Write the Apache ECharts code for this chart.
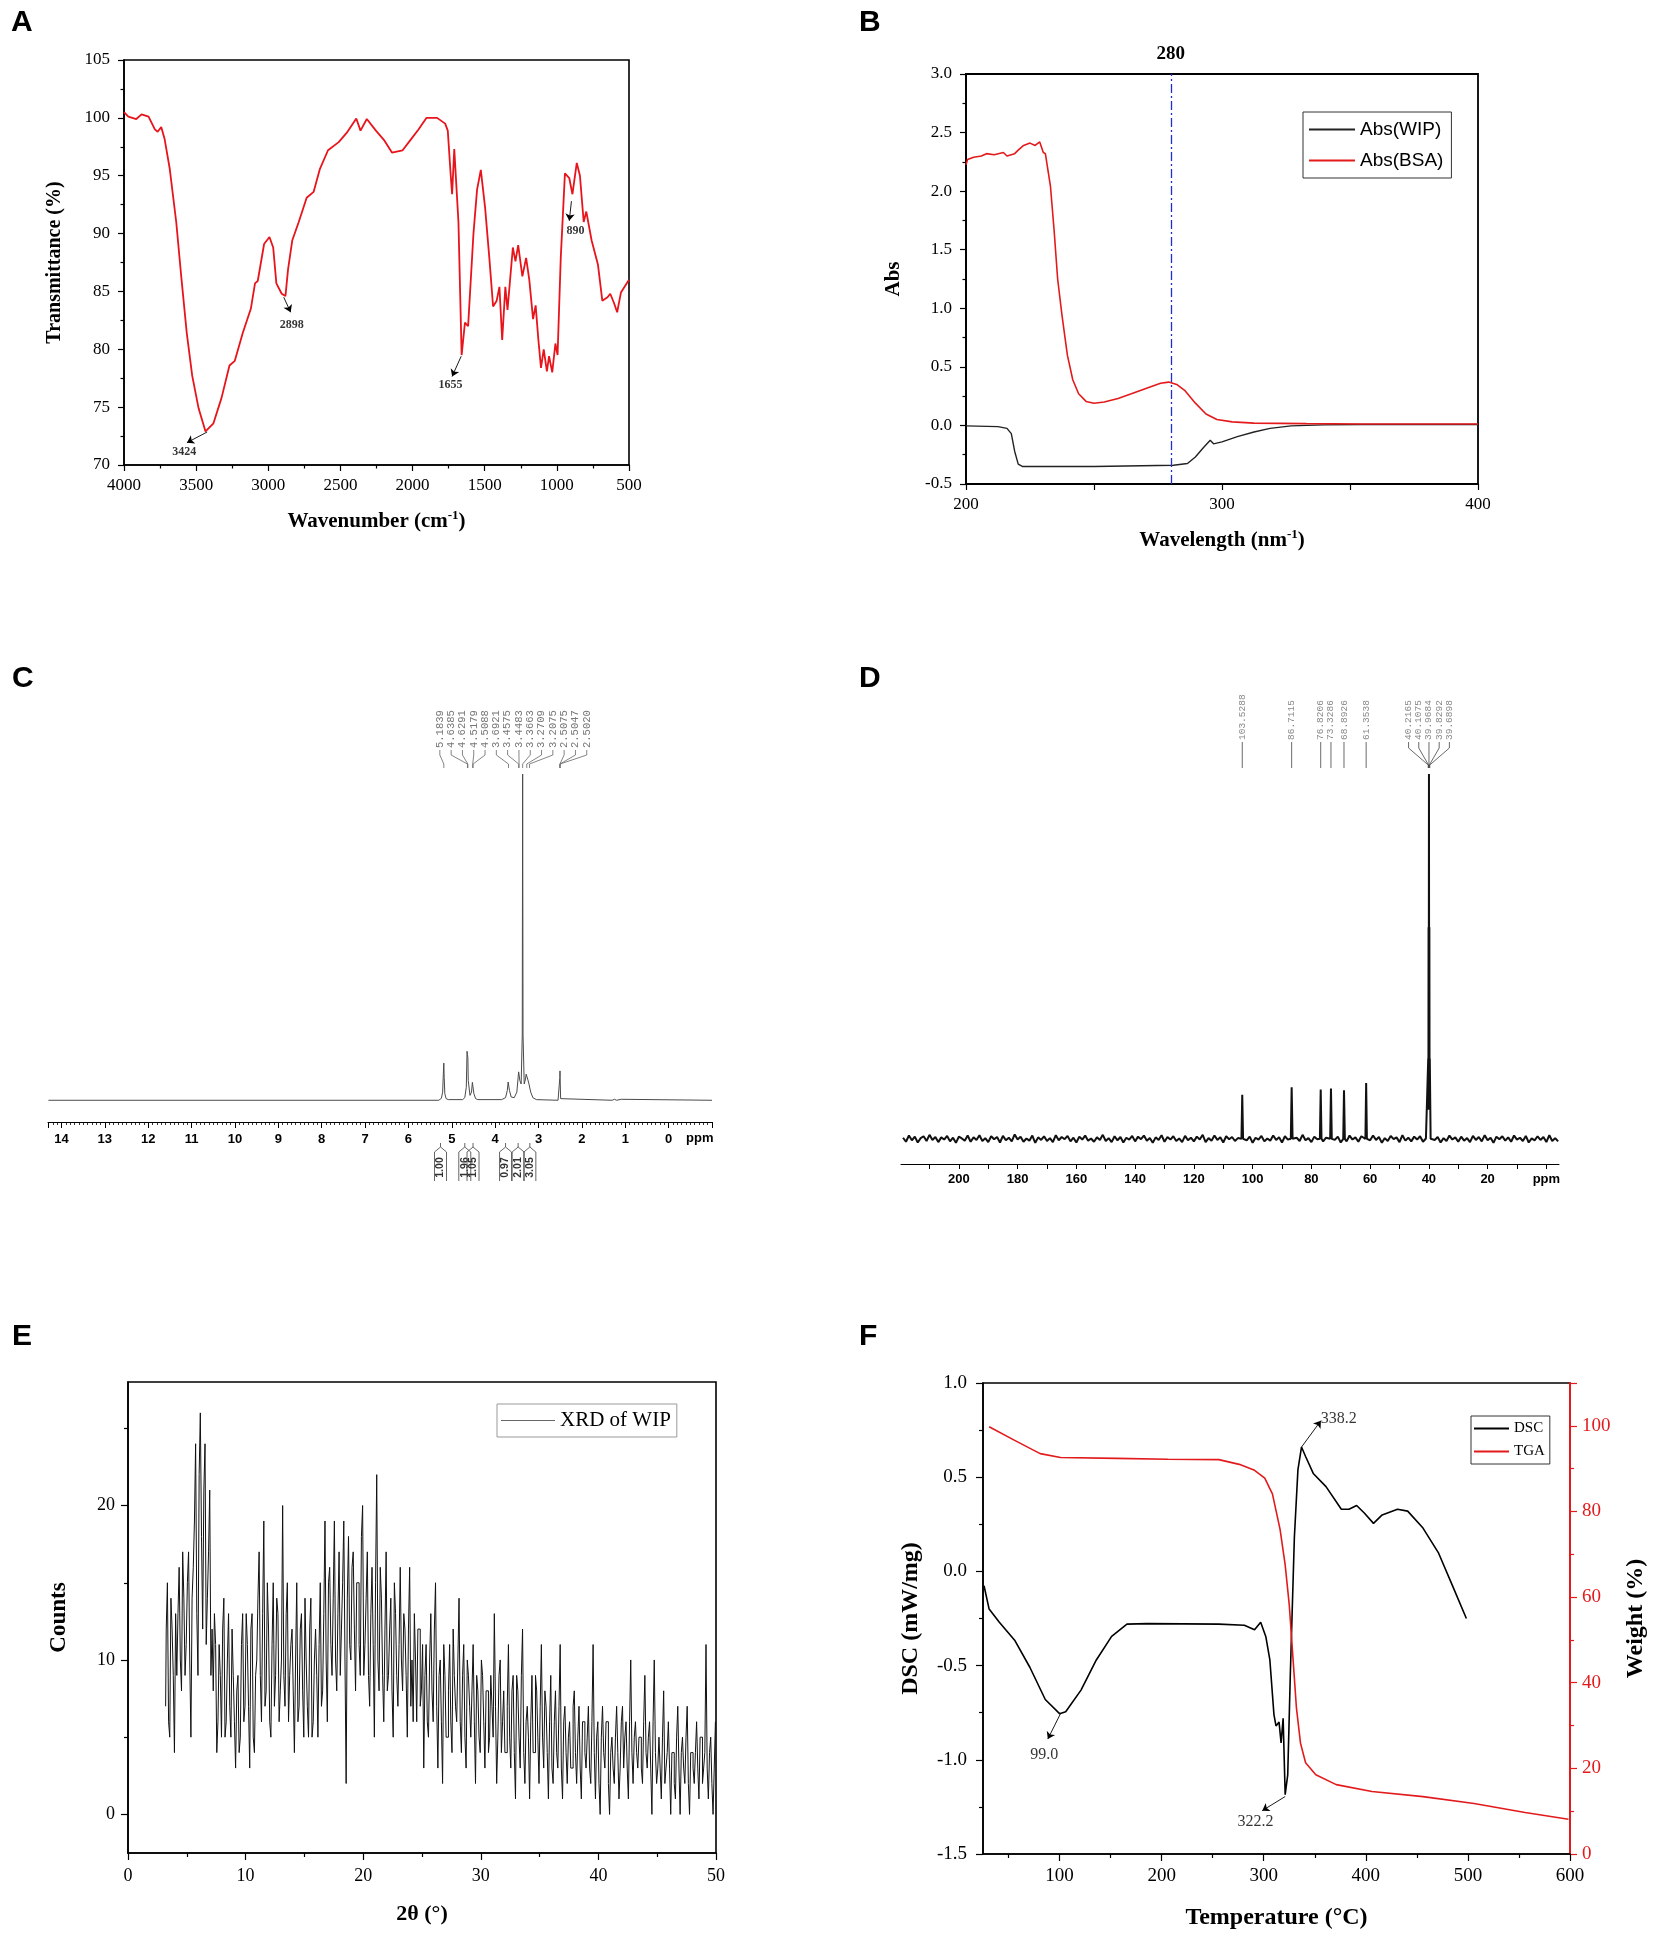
<!DOCTYPE html>
<html>
<head>
<meta charset="utf-8">
<title>WIP characterization</title>
<script src="https://cdn.jsdelivr.net/npm/echarts@6.0.0/dist/echarts.min.js"></script>
<style>
html, body { margin: 0; padding: 0; background: #fff; }
#main { width: 1654px; height: 1937px; }
</style>
</head>
<body>
<div id="main"></div>
<script>
// ---------- A: FT-IR ----------
var irSpectrum = [[4000,100.5],[3970,100.1],[3915,99.9],[3878,100.3],[3830,100.1],[3786,99.0],[3767,98.8],[3742,99.2],[3719,98.2],[3683,95.6],[3638,91.0],[3601,86.0],[3565,81.4],[3527,77.7],[3483,74.9],[3435,72.9],[3424,72.8],[3380,73.6],[3324,75.8],[3269,78.6],[3232,79.0],[3177,81.4],[3121,83.5],[3092,85.7],[3073,85.9],[3029,89.1],[2992,89.7],[2966,88.8],[2944,85.7],[2907,84.8],[2881,84.6],[2863,86.9],[2834,89.4],[2789,91.0],[2734,93.1],[2686,93.6],[2642,95.6],[2586,97.2],[2512,97.9],[2457,98.7],[2390,99.95],[2361,98.9],[2317,99.9],[2254,98.9],[2199,98.1],[2143,97.0],[2069,97.2],[2014,98.1],[1959,99.0],[1903,100.0],[1830,100.0],[1774,99.5],[1756,98.9],[1737,95.3],[1726,93.4],[1711,97.3],[1700,97.2],[1682,91.0],[1660,79.5],[1637,82.3],[1615,82.0],[1578,90.0],[1553,93.8],[1527,95.5],[1497,92.2],[1468,87.9],[1442,83.7],[1417,84.2],[1398,85.4],[1379,80.8],[1357,85.4],[1342,83.4],[1305,88.8],[1287,87.6],[1268,89.0],[1239,86.3],[1213,87.9],[1191,86.0],[1165,82.6],[1147,83.8],[1128,80.8],[1110,78.4],[1091,80.0],[1069,78.1],[1054,79.4],[1032,78.0],[1010,80.5],[995,79.5],[973,87.9],[944,95.2],[914,94.8],[892,93.4],[862,96.1],[840,95.0],[814,91.0],[796,91.9],[759,89.4],[715,87.3],[685,84.2],[649,84.5],[630,84.8],[604,84.0],[582,83.2],[556,84.9],[500,86.0]];
var irPeakText = ['3424', '2898', '1655', '890'];
var irArrowFrom = [[3424,72.85],[2893,84.5],[1663,79.4],[899,92.8]];
var irArrowTo = [[3564,71.93],[2845,83.2],[1726,77.65],[914,91.1]];
var irTextAt = [[3583,71.1],[2837,82.1],[1737,76.9],[870,90.2]];

// ---------- B: UV ----------
var uvWIP = [[200,-0.004],[212.5,-0.01],[216,-0.025],[217.7,-0.07],[219,-0.22],[220.4,-0.33],[222,-0.35],[250,-0.35],[281,-0.34],[286.5,-0.325],[289.6,-0.27],[292.7,-0.19],[295.4,-0.126],[296.7,-0.157],[300,-0.14],[306,-0.096],[312.5,-0.056],[318.75,-0.025],[327,-0.004],[339.6,0.005],[354,0.008],[400,0.008]];
var uvBSA = [[200,2.225],[200.6,2.27],[203,2.29],[206,2.30],[208,2.32],[211,2.31],[214.6,2.33],[216,2.30],[219,2.32],[220.4,2.35],[222.5,2.39],[225,2.41],[227,2.39],[228.8,2.42],[230.2,2.33],[231,2.32],[233,2.04],[234.4,1.67],[235.8,1.25],[237.5,0.94],[239.6,0.60],[241.7,0.39],[244,0.27],[246.9,0.205],[250,0.19],[254,0.20],[259.4,0.23],[264.6,0.27],[270.8,0.32],[276,0.36],[279.2,0.37],[282.3,0.35],[285.4,0.30],[289.6,0.19],[293.75,0.097],[298,0.05],[304,0.03],[312.5,0.02],[333,0.015],[354,0.012],[400,0.012]];
var uvMarker = 280;

// ---------- C: 1H NMR ----------
var nmrH = [[14.3,0],[5.30,0],[5.24,0.6],[5.21,2.5],[5.195,8],[5.184,11.4],[5.175,7],[5.16,2],[5.13,0.5],[5.08,0.2],
  [4.75,0.2],[4.70,0.8],[4.665,4],[4.648,15],[4.638,14],[4.629,13],[4.62,6],[4.58,1.5],[4.545,2.5],[4.525,5.5],[4.518,6.1],[4.509,5.8],[4.49,2],[4.45,0.5],[4.40,0.2],
  [3.85,0.2],[3.76,0.8],[3.72,3],[3.70,5.6],[3.69,5.6],[3.67,3],[3.63,1],[3.56,0.8],[3.50,2.5],[3.47,7],[3.458,8.7],[3.45,8.5],[3.43,6],[3.40,5],[3.375,20],[3.366,100],[3.357,20],[3.33,5],[3.30,6.5],[3.285,8.0],[3.271,8.3],[3.25,6.5],[3.22,5],[3.207,5.1],[3.18,2.5],[3.13,0.8],[3.05,0.2],
  [2.55,0],[2.52,0.5],[2.508,7],[2.505,9],[2.502,7],[2.49,0.5],[2.45,0],
  [1.30,0],[1.25,0.3],[1.2,0],[1.09,0.3],[1.05,0],[-1.0,0]];
var nmrHPeaks = [5.1839,4.6385,4.6291,4.5179,4.5088,3.6921,3.4575,3.4483,3.3663,3.2709,3.2075,2.5075,2.5047,2.5020];
var nmrHIntegralPpm = [5.26, 4.70, 4.51, 3.76, 3.47, 3.20];
var nmrHIntegralText = ['1.00', '1.96', '1.05', '0.97', '2.01', '3.05'];
var nmrHTicks = [0,1,2,3,4,5,6,7,8,9,10,11,12,13,14];

// ---------- D: 13C NMR ----------
var nmrCPeakShape = [[103.8,0],[103.53,12.1],[103.25,0],[87.0,0],[86.71,14.1],[86.4,0],[77.1,0],[76.82,13.5],[76.55,0],[73.6,0],[73.33,13.8],[73.05,0],[69.15,0],[68.89,13.3],[68.6,0],[61.6,0],[61.35,15.3],[61.1,0],
  [40.5,0],[40.2165,22],[40.16,8],[40.1075,58],[40.04,20],[39.9684,100],[39.9,20],[39.8292,58],[39.76,8],[39.6898,22],[39.4,0]];
var nmrCNoise = [0.3,-0.8,0.9,-0.4,0.6,-1.0,0.2,0.7,-0.6,1.1,-0.3,0.5,-0.9,0.4,-0.2,0.8,
  -0.7,0.3,-1.1,0.6,0.1,-0.5,0.9,-0.8,0.4,-0.3,1.0,-0.6,0.2,-0.9,0.7,-0.1,
  0.5,-1.0,0.8,-0.4,0.3,-0.7,1.2,-0.2,0.6,-0.8,0.1,-0.5,0.9,-1.1,0.4,-0.3,
  0.7,-0.6,0.2,-0.9,1.0,-0.4,0.5,-0.1,0.8,-0.7,0.3,-1.0,0.6,-0.2,0.9,-0.5,
  0.1,-0.8,0.4,-0.3,1.1,-0.6,0.2,-0.9,0.7,-0.4,0.5,-1.0,0.3,-0.2,0.8,-0.7,
  0.6,-0.1,0.9,-0.5,0.2,-1.1,0.4,-0.3,1.0,-0.8,0.5,-0.2,0.7,-0.6,0.1,-0.9,
  0.8,-0.4,0.3,-0.7,0.6,-0.2,1.1,-0.9,0.2,-0.5,0.9,-0.3,0.4,-1.0,0.7,-0.1,
  0.5,-0.6,0.2,-0.8,1.0,-0.4,0.6,-1.1,0.3,-0.2,0.8,-0.7,0.1,-0.5,0.9,-0.3,
  0.4,-1.0,0.7,-0.2,0.5,-0.8,0.3,-0.6,1.1,-0.4,0.2,-0.9,0.6,-0.1,0.8,-0.7,
  0.3,-0.5,1.0,-0.3,0.6,-1.0,0.2,-0.7,0.9,-0.2,0.4,-0.8,0.7,-0.6,0.1,-0.4,
  0.9,-0.3,0.5,-1.1,0.2,-0.6,0.8,-0.1,0.4,-0.9,1.0,-0.5,0.3,-0.7,0.6,-0.2,
  0.7,-0.8,0.1,-0.4,1.1,-0.3,0.5,-1.0,0.2,-0.6,0.9,-0.2,0.4,-0.8,0.6,-0.5,
  0.2,-0.9,0.8,-0.3,0.5,-0.7,1.0,-0.4,0.3,-1.1,0.6,-0.1,0.7,-0.5,0.4,-0.8,
  0.9,-0.2,0.3,-0.6,0.8,-1.0,0.1,-0.4,0.7,-0.3,0.5,-0.9,1.0,-0.6,0.2,-0.7];
var nmrCNoiseStart = 219;   // ppm of first noise sample, 1 ppm apart
var nmrCPeaks = [103.5288,86.7115,76.8206,73.3286,68.8926,61.3538,40.2165,40.1075,39.9684,39.8292,39.6898];
var nmrCLabelTicks = [0,20,40,60,80,100,120,140,160,180,200];
var nmrCTicks = [0,10,20,30,40,50,60,70,80,90,100,110,120,130,140,150,160,170,180,190,200,210,220];

// ---------- E: XRD ----------
var xrdStart = 3.2, xrdStep = 0.2;
var xrdCounts = [
  7,15,5,12,4,  9,16,8,14,11,  17,5,16,24,9,  26,12,24,14,21,  12,13,4,11,5,
  14,6,13,5,9,  3,9,5,13,7,  11,3,13,4,10,  17,6,19,8,12,  5,15,9,13,8,
  20,7,15,9,12,  4,15,7,13,5,  10,5,14,6,12,  5,15,8,19,6,  16,9,19,8,17,
  12,19,2,18,10,  17,8,15,9,20,  11,17,7,16,5,  22,8,14,6,17,  9,14,5,13,7,
  16,8,12,5,16,  10,13,6,12,8,  3,11,5,13,6,  15,3,10,2,9,  5,11,4,9,6,
  14,4,11,3,9,  5,11,2,8,4,  9,3,8,5,7,  13,2,9,4,8,  4,11,3,9,1,
  8,3,12,2,7,  1,9,4,8,2,  11,3,7,1,9,  2,8,3,11,1,  7,2,6,3,8,
  2,7,1,6,3,  7,2,11,1,6,  0,7,3,6,0,  5,2,7,1,6,  3,6,1,10,2,
  6,3,5,2,9,  3,6,0,10,2,  5,1,8,3,6,  0,4,1,7,0,  5,2,7,0,4,
  2,6,1,5,3,  11,1,5,0,6];
// samples half-way between the ones above (3.3, 3.5, ... 49.9)
var xrdCountsMid = [
  12,6,14,9,13,  13,10,17,9,15,  10,14,19,13,22,  18,21,11,17,9,  8,11,6,9,12,
  5,10,7,12,6,  8,4,11,6,13,  7,12,5,9,14,  9,13,7,15,6,  11,7,14,6,10,
  9,13,6,11,8,  10,6,12,8,14,  7,12,5,10,9,  11,7,13,10,15,  11,14,10,13,9,
  15,10,14,11,16,  12,15,11,18,9,  14,9,13,11,15,  10,16,9,12,8,  12,8,15,9,11,
  10,13,9,12,7,  6,10,12,7,11,  9,6,10,8,12,  7,9,6,11,5,  8,6,12,7,10,
  6,9,5,10,7,  8,6,9,5,10,  6,8,4,9,5,  7,5,10,6,4,  7,5,8,4,9,
  5,9,4,6,5,  6,4,9,5,7,  5,8,4,6,3,  6,4,7,3,6,  4,5,3,7,4,
  5,3,6,4,5,  3,6,4,5,2,  5,4,6,2,4,  3,5,4,3,7,  5,3,6,4,5,
  4,5,3,6,4,  5,3,6,4,3,  3,5,2,4,3,  4,2,5,3,4,  3,5,2,4,3,
  4,3,5,2,4,  3,4,2,3];
var xrdMajorTicks = [0, 10, 20];
var xrdMinorTicks = [5, 15, 25];

// ---------- F: DSC / TGA ----------
var dscCurve = [[26,-0.076],[31,-0.20],[41,-0.27],[56,-0.365],[71,-0.51],[86,-0.68],[100,-0.755],[106,-0.745],[121,-0.63],[136,-0.47],[151,-0.345],[166,-0.28],[186,-0.277],[256,-0.28],[281,-0.286],[291,-0.31],[297,-0.27],[302,-0.345],[306,-0.47],[310,-0.76],[312,-0.82],[315,-0.80],[317,-0.91],[319,-0.78],[321,-1.185],[323.5,-1.08],[326,-0.555],[330,0.18],[333.5,0.54],[337,0.66],[341,0.61],[348.5,0.52],[361,0.45],[376,0.33],[383.5,0.33],[391,0.35],[398.5,0.31],[407.5,0.255],[416,0.30],[431,0.33],[441,0.32],[456,0.23],[471,0.10],[486,-0.09],[498.5,-0.25]];
var tgaCurve = [[31,99.8],[56,96.6],[81,93.5],[101,92.6],[156,92.4],[206,92.2],[256,92.1],[276,91.0],[291,89.6],[301,87.8],[308.5,84.1],[316,75.8],[321,67.5],[325,58.2],[328.5,46.2],[332,34.2],[336,25.9],[341,21.3],[351,18.5],[371,16.2],[406,14.6],[456,13.4],[506,11.8],[556,9.7],[598.5,8.1]];
var thermText = ['338.2', '99.0', '322.2'];
var thermArrowFrom = [[337,0.66],[101,-0.754],[321,-1.195]];
var thermArrowTo = [[356,0.80],[88.5,-0.89],[298.5,-1.27]];
var thermTextAt = [[373.5,0.81],[85,-0.975],[292,-1.33]];
var tempLabelTicks = [100, 200, 300, 400, 500, 600];
var tempMinorTicks = [50, 150, 250, 350, 450, 550];

var SERIF = '"Liberation Serif", "Times New Roman", serif';
var SANS = '"Liberation Sans", Arial, sans-serif';
var MONO = '"Liberation Mono", "DejaVu Sans Mono", monospace';

// build 13C trace: noise samples away from peaks + peak shapes, in ppm order
var nmrCTrace = [];
nmrCNoise.forEach(function (v, i) {
  var ppm = nmrCNoiseStart - i;
  var near = nmrCPeakShape.some(function (p) { return Math.abs(p[0] - ppm) < 0.45; });
  if (!near) nmrCTrace.push([ppm, v]);
});
nmrCTrace = nmrCTrace.concat(nmrCPeakShape).sort(function (a, b) { return b[0] - a[0]; });

var xrdData = [];
xrdCounts.forEach(function (c, i) {
  xrdData.push([+(xrdStart + i * xrdStep).toFixed(2), c]);
  if (i < xrdCountsMid.length) xrdData.push([+(xrdStart + (i + 0.5) * xrdStep).toFixed(2), xrdCountsMid[i]]);
});

function titleStyle(size) {
  return {
    fontFamily: SERIF, fontWeight: 'bold', fontSize: size, color: '#000',
    rich: { s: { fontFamily: SERIF, fontWeight: 'bold', fontSize: Math.round(size * 0.62), color: '#000', padding: [0, 0, size * 0.55, 0] } }
  };
}
function boxLine(w) { return { show: true, onZero: false, lineStyle: { color: '#000', width: w || 1.6 } }; }
var noSplit = { show: false };
var plain = function (v) { return String(v); };

// peak label ladder (TopSpin style) drawn above a spectrum
function peakLabels(peaks, o) {
  return function (params, api) {
    var xs = peaks.map(function (p) { return api.coord([p, 0])[0]; });
    var top = api.coord([0, o.yTop])[1];
    var order = xs.map(function (x, i) { return i; }).sort(function (a, b) { return xs[a] - xs[b]; });
    var clusters = [];
    order.forEach(function (i) {
      clusters.push({ members: [i], center: xs[i] });
      while (clusters.length > 1) {
        var c = clusters[clusters.length - 1], p = clusters[clusters.length - 2];
        var pRight = p.center + (p.members.length - 1) / 2 * o.gap;
        var cLeft = c.center - (c.members.length - 1) / 2 * o.gap;
        if (cLeft - pRight >= o.gap) break;
        var m = p.members.concat(c.members), sum = 0;
        m.forEach(function (k) { sum += xs[k]; });
        clusters.splice(-2, 2, { members: m, center: sum / m.length });
      }
    });
    var children = [];
    var yb = top - o.rise;
    clusters.forEach(function (c) {
      c.members.forEach(function (k, j) {
        var lx = c.center + o.shift + (j - (c.members.length - 1) / 2) * o.gap;
        var px = xs[k];
        children.push({
          type: 'text', x: lx, y: yb, rotation: Math.PI / 2,
          style: { text: peaks[k].toFixed(4), fill: o.color, font: o.font, align: 'left', verticalAlign: 'middle' }
        });
        children.push({
          type: 'polyline',
          shape: { points: [[lx, yb + 2], [lx, yb + o.l1], [px, yb + o.l2], [px, yb + o.l3]] },
          style: { stroke: o.lineColor, lineWidth: 0.8, fill: null }
        });
      });
    });
    return { type: 'group', children: children };
  };
}

function integralMarks(params, api) {
  var i = params.dataIndex;
  var x = api.coord([nmrHIntegralPpm[i], 0])[0];
  var axisY = api.coord([0, -6.66])[1];
  var t = axisY + 24, b = axisY + 59;
  return {
    type: 'group',
    children: [
      { type: 'polyline', shape: { points: [[x - 6, b], [x - 6, t + 6], [x, t + 1], [x + 6, t + 6], [x + 6, b]] }, style: { stroke: '#555', lineWidth: 0.9, fill: null } },
      { type: 'line', shape: { x1: x, y1: t + 1, x2: x, y2: t - 3 }, style: { stroke: '#555', lineWidth: 0.9 } },
      { type: 'text', x: x, y: (t + 6 + b) / 2 + 1, rotation: Math.PI / 2,
        style: { text: nmrHIntegralText[i], fill: '#333', font: 'bold 10.5px ' + SANS, align: 'center', verticalAlign: 'middle' } }
    ]
  };
}

function arrows(xi, yi, from, to) {
  return {
    type: 'lines', coordinateSystem: 'cartesian2d', xAxisIndex: xi, yAxisIndex: yi, silent: true, z: 5,
    symbol: ['none', 'arrow'], symbolSize: 7,
    lineStyle: { color: '#000', width: 0.9, opacity: 1, curveness: 0 },
    data: from.map(function (f, i) { return { coords: [f, to[i]] }; })
  };
}
function notes(xi, yi, texts, at, size, weight) {
  return {
    type: 'scatter', xAxisIndex: xi, yAxisIndex: yi, silent: true, symbolSize: 1, z: 6,
    itemStyle: { color: 'rgba(0,0,0,0)' },
    label: { show: true, position: 'inside', formatter: '{b}', color: '#000', fontFamily: SERIF, fontSize: size, fontWeight: weight },
    data: texts.map(function (t, i) { return { name: t, value: at[i] }; })
  };
}

var chart = echarts.init(document.getElementById('main'));

var tickStyle = { color: '#000', width: 1.2 };
var option = {
  animation: false,
  backgroundColor: '#fff',
  textStyle: { fontFamily: SERIF },
  grid: [
    { left: 124, top: 60, width: 505, height: 405, show: true, borderColor: '#000', borderWidth: 1.6 },
    { left: 966, top: 74, width: 512, height: 410, show: true, borderColor: '#000', borderWidth: 1.8 },
    { left: 48, top: 774, width: 664, height: 348 },
    { left: 901, top: 774, width: 658, height: 390 },
    { left: 128, top: 1382, width: 588, height: 471, show: true, borderColor: '#000', borderWidth: 1.6 },
    { left: 983, top: 1383, width: 587, height: 471, show: true, borderColor: '#000', borderWidth: 1.6 }
  ],
  graphic: [
    { type: 'text', left: 11, top: 8, style: { text: 'A', font: 'bold 30px ' + SANS, fill: '#000' } },
    { type: 'text', left: 859, top: 8, style: { text: 'B', font: 'bold 30px ' + SANS, fill: '#000' } },
    { type: 'text', left: 12, top: 664, style: { text: 'C', font: 'bold 30px ' + SANS, fill: '#000' } },
    { type: 'text', left: 859, top: 664, style: { text: 'D', font: 'bold 30px ' + SANS, fill: '#000' } },
    { type: 'text', left: 12, top: 1322, style: { text: 'E', font: 'bold 30px ' + SANS, fill: '#000' } },
    { type: 'text', left: 859, top: 1322, style: { text: 'F', font: 'bold 30px ' + SANS, fill: '#000' } },
    { type: 'text', left: 686, top: 1132, style: { text: 'ppm', font: 'bold 13px ' + SANS, fill: '#000' } }
  ],
  legend: [
    {
      data: ['Abs(WIP)', 'Abs(BSA)'], orient: 'vertical', left: 1303, top: 112,
      icon: 'rect', itemWidth: 46, itemHeight: 2, itemGap: 12, padding: [8, 8, 8, 6],
      borderColor: '#333', borderWidth: 1, selectedMode: false,
      textStyle: { fontFamily: SANS, fontSize: 19, color: '#000' }
    },
    {
      data: ['XRD of WIP'], orient: 'vertical', left: 497, top: 1404,
      icon: 'rect', itemWidth: 54, itemHeight: 1, padding: [6, 6, 6, 4],
      borderColor: '#999', borderWidth: 1, selectedMode: false,
      itemStyle: { color: '#666' },
      textStyle: { fontFamily: SERIF, fontSize: 21, color: '#000' }
    },
    {
      data: ['DSC', 'TGA'], orient: 'vertical', left: 1471, top: 1416,
      icon: 'rect', itemWidth: 35, itemHeight: 2, itemGap: 8, padding: [5, 5, 5, 3],
      borderColor: '#333', borderWidth: 1, selectedMode: false,
      textStyle: { fontFamily: SERIF, fontSize: 15, color: '#000' }
    }
  ],
  xAxis: [
    { // A
      gridIndex: 0, type: 'value', min: 500, max: 4000, interval: 500, inverse: true,
      axisLine: boxLine(), axisTick: { length: 6, lineStyle: tickStyle },
      minorTick: { show: true, splitNumber: 2, length: 3.5, lineStyle: tickStyle },
      splitLine: noSplit, minorSplitLine: noSplit,
      axisLabel: { color: '#000', fontFamily: SERIF, fontSize: 17, margin: 12, formatter: plain },
      name: 'Wavenumber (cm{s|-1})', nameLocation: 'middle', nameGap: 44, nameTextStyle: titleStyle(21)
    },
    { // B
      gridIndex: 1, type: 'value', min: 200, max: 400, interval: 100,
      axisLine: boxLine(1.8), axisTick: { length: 6, lineStyle: tickStyle },
      minorTick: { show: true, splitNumber: 2, length: 6, lineStyle: tickStyle },
      splitLine: noSplit, minorSplitLine: noSplit,
      axisLabel: { color: '#000', fontFamily: SERIF, fontSize: 17, margin: 12, formatter: plain },
      name: 'Wavelength (nm{s|-1})', nameLocation: 'middle', nameGap: 44, nameTextStyle: titleStyle(21)
    },
    { // C
      gridIndex: 2, type: 'value', min: -1.0, max: 14.31, interval: 1, inverse: true,
      axisLine: { show: true, onZero: false, lineStyle: { color: '#000', width: 1 } },
      axisTick: { length: 6, lineStyle: { color: '#000', width: 1 } },
      minorTick: { show: true, splitNumber: 10, length: 3, lineStyle: { color: '#000', width: 0.8 } },
      splitLine: noSplit, minorSplitLine: noSplit,
      axisLabel: {
        color: '#000', fontFamily: SANS, fontWeight: 'bold', fontSize: 13, margin: 11,
        formatter: function (v) { return nmrHTicks.indexOf(v) >= 0 ? String(v) : ''; }
      }
    },
    { // D
      gridIndex: 3, type: 'value', min: -4.3, max: 219.7, inverse: true,
      axisLine: { show: true, onZero: false, lineStyle: { color: '#000', width: 1 } },
      axisTick: { customValues: nmrCTicks, length: 5, lineStyle: { color: '#000', width: 1 } },
      splitLine: noSplit,
      axisLabel: {
        customValues: nmrCLabelTicks, color: '#000', fontFamily: SANS, fontWeight: 'bold', fontSize: 13, margin: 9,
        formatter: function (v) { return v === 0 ? 'ppm' : String(v); }
      }
    },
    { // E
      gridIndex: 4, type: 'value', min: 0, max: 50, interval: 10,
      axisLine: boxLine(), axisTick: { length: 7, lineStyle: tickStyle },
      minorTick: { show: true, splitNumber: 2, length: 4, lineStyle: tickStyle },
      splitLine: noSplit, minorSplitLine: noSplit,
      axisLabel: { color: '#000', fontFamily: SERIF, fontSize: 18, margin: 14, formatter: plain },
      name: '2θ (°)', nameLocation: 'middle', nameGap: 50, nameTextStyle: titleStyle(22)
    },
    { // F labels + major ticks
      gridIndex: 5, type: 'value', min: 25, max: 600,
      axisLine: boxLine(), axisTick: { customValues: tempLabelTicks, length: 7, lineStyle: tickStyle },
      splitLine: noSplit,
      axisLabel: { customValues: tempLabelTicks, color: '#000', fontFamily: SERIF, fontSize: 19, margin: 13, formatter: plain },
      name: 'Temperature (°C)', nameLocation: 'middle', nameGap: 52, nameTextStyle: titleStyle(24)
    },
    { // F minor ticks
      gridIndex: 5, type: 'value', min: 25, max: 600, position: 'bottom',
      axisLine: { show: false, onZero: false }, axisLabel: { show: false }, splitLine: noSplit,
      axisTick: { customValues: tempMinorTicks, length: 4, lineStyle: tickStyle }
    }
  ],
  yAxis: [
    { // A
      gridIndex: 0, type: 'value', min: 70, max: 105, interval: 5,
      axisLine: boxLine(), axisTick: { length: 6, lineStyle: tickStyle },
      minorTick: { show: true, splitNumber: 2, length: 3.5, lineStyle: tickStyle },
      splitLine: noSplit, minorSplitLine: noSplit,
      axisLabel: { color: '#000', fontFamily: SERIF, fontSize: 17, margin: 14 },
      name: 'Transmittance (%)', nameLocation: 'middle', nameRotate: 90, nameGap: 59, nameTextStyle: titleStyle(20)
    },
    { // B
      gridIndex: 1, type: 'value', min: -0.5, max: 3.0, interval: 0.5,
      axisLine: boxLine(1.8), axisTick: { length: 6, lineStyle: tickStyle },
      minorTick: { show: true, splitNumber: 2, length: 3.5, lineStyle: tickStyle },
      splitLine: noSplit, minorSplitLine: noSplit,
      axisLabel: { color: '#000', fontFamily: SERIF, fontSize: 17, margin: 14, formatter: function (v) { return v.toFixed(1); } },
      name: 'Abs', nameLocation: 'middle', nameRotate: 90, nameGap: 62, nameTextStyle: titleStyle(21)
    },
    { gridIndex: 2, type: 'value', min: -6.66, max: 100, show: false, splitLine: noSplit, axisLine: { onZero: false } },
    { gridIndex: 3, type: 'value', min: -6.9, max: 100, show: false, splitLine: noSplit, axisLine: { onZero: false } },
    { // E labels + major ticks
      gridIndex: 4, type: 'value', min: -2.5, max: 28,
      axisLine: boxLine(), axisTick: { customValues: xrdMajorTicks, length: 7, lineStyle: tickStyle },
      splitLine: noSplit,
      axisLabel: { customValues: xrdMajorTicks, color: '#000', fontFamily: SERIF, fontSize: 18, margin: 13 },
      name: 'Counts', nameLocation: 'middle', nameRotate: 90, nameGap: 57, nameTextStyle: titleStyle(23)
    },
    { // E minor ticks
      gridIndex: 4, type: 'value', min: -2.5, max: 28, position: 'left',
      axisLine: { show: false, onZero: false }, axisLabel: { show: false }, splitLine: noSplit,
      axisTick: { customValues: xrdMinorTicks, length: 4, lineStyle: tickStyle }
    },
    { // F left (DSC)
      gridIndex: 5, type: 'value', min: -1.5, max: 1.0, interval: 0.5,
      axisLine: boxLine(), axisTick: { length: 7, lineStyle: tickStyle },
      minorTick: { show: true, splitNumber: 2, length: 4, lineStyle: tickStyle },
      splitLine: noSplit, minorSplitLine: noSplit,
      axisLabel: { color: '#000', fontFamily: SERIF, fontSize: 19, margin: 16, formatter: function (v) { return v.toFixed(1); } },
      name: 'DSC (mW/mg)', nameLocation: 'middle', nameRotate: 90, nameGap: 60, nameTextStyle: titleStyle(24)
    },
    { // F right (TGA)
      gridIndex: 5, type: 'value', min: 0, max: 110, interval: 20, position: 'right',
      axisLine: { show: true, onZero: false, lineStyle: { color: '#e31a1c', width: 2 } },
      axisTick: { length: 7, lineStyle: { color: '#e31a1c', width: 1.2 } },
      minorTick: { show: true, splitNumber: 2, length: 4, lineStyle: { color: '#e31a1c', width: 1.2 } },
      splitLine: noSplit, minorSplitLine: noSplit,
      axisLabel: { color: '#e31a1c', fontFamily: SERIF, fontSize: 19, margin: 12, formatter: function (v) { return v > 100 ? '' : String(v); } },
      name: 'Weight (%)', nameLocation: 'middle', nameRotate: 90, nameGap: 54, nameTextStyle: titleStyle(24)
    }
  ],
  series: [
    // A
    { name: 'FTIR', type: 'line', xAxisIndex: 0, yAxisIndex: 0, data: irSpectrum, showSymbol: false, symbol: 'none',
      lineStyle: { color: '#e8141b', width: 1.8 } },
    arrows(0, 0, irArrowFrom, irArrowTo),
    notes(0, 0, irPeakText, irTextAt, 12, 'bold'),
    // B
    { name: 'Abs(WIP)', type: 'line', xAxisIndex: 1, yAxisIndex: 1, data: uvWIP, symbol: 'none',
      itemStyle: { color: '#222' }, lineStyle: { color: '#222', width: 1.4 } },
    { name: 'Abs(BSA)', type: 'line', xAxisIndex: 1, yAxisIndex: 1, data: uvBSA, symbol: 'none',
      itemStyle: { color: '#e31a1c' }, lineStyle: { color: '#e31a1c', width: 1.6 },
      markLine: {
        silent: true, symbol: ['none', 'none'],
        lineStyle: { color: '#1f2fd0', type: [9, 3, 2, 3], width: 1.3 },
        label: { show: true, position: 'end', formatter: String(uvMarker), color: '#000', fontFamily: SERIF, fontWeight: 'bold', fontSize: 19, distance: 10 },
        data: [{ xAxis: uvMarker }]
      } },
    // C
    { name: '1H', type: 'line', xAxisIndex: 2, yAxisIndex: 2, data: nmrH, symbol: 'none',
      lineStyle: { color: '#4a4a4a', width: 1 } },
    { name: '1H labels', type: 'custom', xAxisIndex: 2, yAxisIndex: 2, data: [[0, 0]], clip: false, silent: true,
      renderItem: peakLabels(nmrHPeaks, { yTop: 100, gap: 11.3, shift: 4, rise: 26, l1: 7, l2: 16, l3: 20, color: '#777', lineColor: '#666', font: '10.5px ' + MONO }) },
    { name: '1H integrals', type: 'custom', xAxisIndex: 2, yAxisIndex: 2, data: nmrHIntegralPpm.map(function (p) { return [p, 0]; }),
      clip: false, silent: true, renderItem: integralMarks },
    // D
    { name: '13C', type: 'line', xAxisIndex: 3, yAxisIndex: 3, data: nmrCTrace, symbol: 'none',
      lineStyle: { color: '#111', width: 2 } },
    { name: '13C labels', type: 'custom', xAxisIndex: 3, yAxisIndex: 3, data: [[0, 0]], clip: false, silent: true,
      renderItem: peakLabels(nmrCPeaks, { yTop: 100, gap: 10.2, shift: 0, rise: 34, l1: 8, l2: 25, l3: 28, color: '#888', lineColor: '#444', font: '9.5px ' + MONO }) },
    // E
    { name: 'XRD of WIP', type: 'line', xAxisIndex: 4, yAxisIndex: 4, data: xrdData, symbol: 'none', step: 'middle',
      itemStyle: { color: '#111' }, lineStyle: { color: '#111', width: 1 } },
    // F
    { name: 'DSC', type: 'line', xAxisIndex: 5, yAxisIndex: 6, data: dscCurve, symbol: 'none',
      itemStyle: { color: '#000' }, lineStyle: { color: '#000', width: 1.6 } },
    { name: 'TGA', type: 'line', xAxisIndex: 5, yAxisIndex: 7, data: tgaCurve, symbol: 'none',
      itemStyle: { color: '#e31a1c' }, lineStyle: { color: '#e31a1c', width: 1.6 } },
    arrows(5, 6, thermArrowFrom, thermArrowTo),
    notes(5, 6, thermText, thermTextAt, 16, 'normal')
  ]
};
chart.setOption(option);
</script>
</body>
</html>
